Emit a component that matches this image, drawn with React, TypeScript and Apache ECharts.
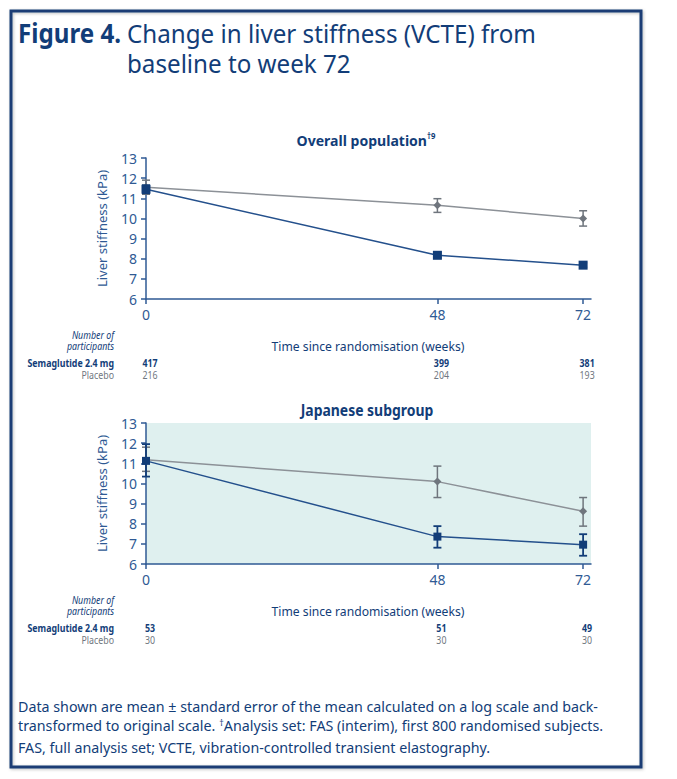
import React, { useEffect, useRef } from "react";
import * as echarts from "echarts";

// ---------- data ----------
const weeks = [0, 48, 72];
const xTickValues = [0, 48, 72];

const overallSema = [11.45, 8.17, 7.68];
const overallSemaLow = [11.25, 8.05, 7.57];
const overallSemaHigh = [11.65, 8.3, 7.8];
const overallPlacebo = [11.55, 10.65, 10.0];
const overallPlaceboLow = [11.2, 10.3, 9.62];
const overallPlaceboHigh = [11.9, 10.98, 10.38];
const overallNSema = [417, 399, 381];
const overallNPlacebo = [216, 204, 193];

const japanSema = [11.12, 7.36, 6.96];
const japanSemaLow = [10.34, 6.81, 6.41];
const japanSemaHigh = [11.95, 7.88, 7.48];
const japanPlacebo = [11.17, 10.09, 8.62];
const japanPlaceboLow = [10.6, 9.3, 7.88];
const japanPlaceboHigh = [11.8, 10.86, 9.3];
const japanNSema = [53, 51, 49];
const japanNPlacebo = [30, 30, 30];

const NAVY = "#123d78";
const AXIS = "#2f5a94";
const GREY_LINE = "#8c9197";
const GREY_MARK = "#6f757d";
const GREY_TEXT = "#707780";
const FONT = "'Noto Sans', 'Open Sans', sans-serif";

function errorSeries(idx: number, low: number[], high: number[], color: string, width: number, z: number) {
  return {
    type: "custom",
    xAxisIndex: idx,
    yAxisIndex: idx,
    z,
    silent: true,
    data: weeks.map((w, i) => [w, low[i], high[i]]),
    encode: { x: 0, y: [1, 2] },
    renderItem: (_p: any, api: any) => {
      const x = api.value(0);
      const lo = api.coord([x, api.value(1)]);
      const hi = api.coord([x, api.value(2)]);
      const cap = 4;
      const style = { stroke: color, lineWidth: width, fill: "none" };
      return {
        type: "group",
        children: [
          { type: "line", shape: { x1: lo[0], y1: lo[1], x2: hi[0], y2: hi[1] }, style },
          { type: "line", shape: { x1: lo[0] - cap, y1: lo[1], x2: lo[0] + cap, y2: lo[1] }, style },
          { type: "line", shape: { x1: hi[0] - cap, y1: hi[1], x2: hi[0] + cap, y2: hi[1] }, style },
        ],
      };
    },
  };
}

function lineSeries(idx: number, values: number[], color: string, lineColor: string, symbol: string, size: number, z: number) {
  return {
    type: "line",
    xAxisIndex: idx,
    yAxisIndex: idx,
    z,
    silent: true,
    data: weeks.map((w, i) => [w, values[i]]),
    symbol,
    symbolSize: size,
    showAllSymbol: true,
    lineStyle: { color: lineColor, width: 1.5 },
    itemStyle: { color, borderWidth: 0 },
  };
}

function xAxis(idx: number) {
  return {
    type: "value",
    gridIndex: idx,
    min: 0,
    max: 73.3,
    splitLine: { show: false },
    axisLine: { show: true, lineStyle: { color: AXIS, width: 1.5 } },
    axisTick: { show: true, customValues: xTickValues, length: 5, lineStyle: { color: AXIS, width: 1.5 } },
    axisLabel: { customValues: xTickValues, color: AXIS, fontSize: 14, fontFamily: FONT, margin: 8 },
  };
}

function yAxis(idx: number) {
  return {
    type: "value",
    gridIndex: idx,
    min: 6,
    max: 13,
    interval: 1,
    splitLine: { show: false },
    name: "Liver stiffness (kPa)",
    nameLocation: "middle",
    nameGap: 38,
    nameTextStyle: { color: AXIS, fontSize: 13, fontFamily: FONT },
    axisLine: { show: true, lineStyle: { color: AXIS, width: 1.5 } },
    axisTick: { show: true, length: 5, lineStyle: { color: AXIS, width: 1.5 } },
    axisLabel: { color: AXIS, fontSize: 14, fontFamily: FONT, margin: 9 },
  };
}

function tableGraphics(chart: any, idx: number, topY: number, nSema: number[], nPlac: number[]) {
  const els: any[] = [];
  const sx = 0.84;
  els.push({
    type: "text",
    x: 114,
    y: topY,
    scaleX: sx,
    style: {
      text: "Number of\nparticipants",
      align: "right",
      verticalAlign: "middle",
      font: `italic 10.5px ${FONT}`,
      lineHeight: 11,
      fill: NAVY,
    },
  });
  els.push({
    type: "text",
    x: 368,
    y: topY + 5,
    scaleX: 0.9,
    style: { text: "Time since randomisation (weeks)", align: "center", verticalAlign: "middle", font: `13.5px ${FONT}`, fill: NAVY },
  });
  els.push({
    type: "text",
    x: 114,
    y: topY + 22,
    scaleX: sx,
    style: { text: "Semaglutide 2.4 mg", align: "right", verticalAlign: "middle", font: `bold 10.5px ${FONT}`, fill: NAVY },
  });
  els.push({
    type: "text",
    x: 114,
    y: topY + 34,
    scaleX: sx,
    style: { text: "Placebo", align: "right", verticalAlign: "middle", font: `10.5px ${FONT}`, fill: GREY_TEXT },
  });
  weeks.forEach((w, i) => {
    const px = chart.convertToPixel({ xAxisIndex: idx }, w) + 4;
    els.push({
      type: "text",
      x: px,
      y: topY + 22,
      scaleX: sx,
      style: { text: String(nSema[i]), align: "center", verticalAlign: "middle", font: `bold 10.5px ${FONT}`, fill: NAVY },
    });
    els.push({
      type: "text",
      x: px,
      y: topY + 34,
      scaleX: sx,
      style: { text: String(nPlac[i]), align: "center", verticalAlign: "middle", font: `10.5px ${FONT}`, fill: GREY_TEXT },
    });
  });
  return els;
}

export default function App() {
  const ref = useRef<HTMLDivElement>(null);
  useEffect(() => {
    if (!ref.current) return;
    const chart = echarts.init(ref.current, undefined, { renderer: "svg" });
    const baseGraphics: any[] = [
      {
        type: "rect",
        shape: { x: 11, y: 11, width: 630, height: 756 },
        style: { fill: "none", stroke: "#1b3d75", lineWidth: 3, shadowBlur: 3, shadowColor: "rgba(0,0,0,0.25)", shadowOffsetX: 1, shadowOffsetY: 1 },
        z: 10,
      },
      {
        type: "text",
        x: 18,
        y: 33,
        scaleX: 0.93,
        style: { text: "Figure 4.", font: `bold 26px ${FONT}`, fill: NAVY, verticalAlign: "middle" },
      },
      {
        type: "text",
        x: 127,
        y: 18,
        scaleX: 0.93,
        style: {
          text: "Change in liver stiffness (VCTE) from\nbaseline to week 72",
          font: `26px ${FONT}`,
          lineHeight: 30,
          fill: NAVY,
          verticalAlign: "top",
        },
      },
      {
        type: "text",
        x: 366,
        y: 140,
        scaleX: 0.97,
        style: {
          text: "{t|Overall population}{s|†9}",
          align: "center",
          verticalAlign: "middle",
          rich: {
            t: { font: `bold 14.5px ${FONT}`, fill: NAVY, color: NAVY },
            s: { font: `bold 8px ${FONT}`, fill: NAVY, color: NAVY, verticalAlign: "top", padding: [0, 0, 8, 0] },
          },
        },
      },
      {
        type: "text",
        x: 367,
        y: 410,
        scaleX: 0.9,
        style: { text: "Japanese subgroup", align: "center", verticalAlign: "middle", font: `bold 15.5px ${FONT}`, fill: NAVY },
      },
      {
        type: "text",
        x: 18,
        y: 697,
        scaleX: 0.985,
        style: {
          text:
            "{n|Data shown are mean ± standard error of the mean calculated on a log scale and back-}\n{n|transformed to original scale. }{s|†}{n|Analysis set: FAS (interim), first 800 randomised subjects.}",
          verticalAlign: "top",
          rich: {
            n: { font: `14.5px ${FONT}`, fill: NAVY, color: NAVY, lineHeight: 19 },
            s: { font: `9px ${FONT}`, fill: NAVY, color: NAVY, lineHeight: 19, padding: [0, 0, 7, 0] },
          },
        },
      },
      {
        type: "text",
        x: 18,
        y: 747,
        scaleX: 0.985,
        style: { text: "FAS, full analysis set; VCTE, vibration-controlled transient elastography.", verticalAlign: "middle", font: `14.5px ${FONT}`, fill: NAVY },
      },
    ];

    chart.setOption({
      animation: false,
      grid: [
        { left: 146, top: 158, width: 445, height: 141, show: false },
        { left: 146, top: 423, width: 445, height: 141, show: true, backgroundColor: "#dff0ef", borderWidth: 0 },
      ],
      xAxis: [xAxis(0), xAxis(1)],
      yAxis: [yAxis(0), yAxis(1)],
      series: [
        errorSeries(0, overallPlaceboLow, overallPlaceboHigh, GREY_MARK, 1.5, 2),
        lineSeries(0, overallPlacebo, GREY_MARK, GREY_LINE, "diamond", 8, 3),
        errorSeries(0, overallSemaLow, overallSemaHigh, NAVY, 1.8, 4),
        lineSeries(0, overallSema, NAVY, "#24508c", "rect", 9, 5),
        errorSeries(1, japanPlaceboLow, japanPlaceboHigh, GREY_MARK, 1.5, 2),
        lineSeries(1, japanPlacebo, GREY_MARK, GREY_LINE, "diamond", 8, 3),
        errorSeries(1, japanSemaLow, japanSemaHigh, NAVY, 1.8, 4),
        lineSeries(1, japanSema, NAVY, "#24508c", "rect", 8, 5),
      ],
      graphic: baseGraphics,
    });

    const extra = [
      ...tableGraphics(chart, 0, 341, overallNSema, overallNPlacebo),
      ...tableGraphics(chart, 1, 606, japanNSema, japanNPlacebo),
    ];
    chart.setOption({ graphic: [...baseGraphics, ...extra] });

    return () => chart.dispose();
  }, []);
  return (
    <div
      ref={ref}
      style={{ position: "fixed", left: 0, top: 0, width: 677, height: 779, background: "#ffffff" }}
    />
  );
}
